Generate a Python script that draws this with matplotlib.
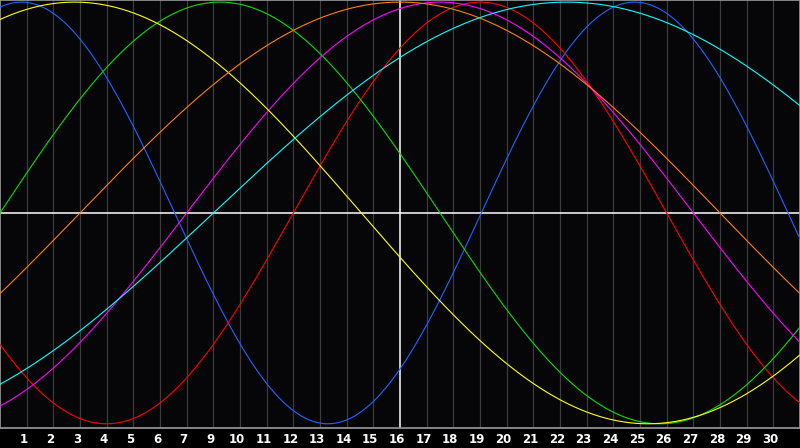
import numpy as np
import matplotlib
matplotlib.use('Agg')
import matplotlib.pyplot as plt
import matplotlib.transforms as mtransforms

# Cycle lengths (days) and the day each cycle crosses zero going up
cycle_names = ['Physical', 'Emotional', 'Intellectual', 'Intuitive',
               'Aesthetic', 'Awareness', 'Spiritual']
periods = [23, 28, 33, 38, 43, 48, 53]
zero_day = [-4.95, 11.0, 0.0, 7.0, -7.95, 3.0, 8.0]
colors = ['#1a66ff', '#ff0000', '#00e000', '#ff00ff',
          '#ffff00', '#ff8000', '#00ffff']

# Tick labels along the bottom (day 8 not shown in the original)
tick_pos = list(range(1, 30))
tick_labels = ['1', '2', '3', '4', '5', '6', '7', '9', '10', '11', '12', '13',
               '14', '15', '16', '17', '18', '19', '20', '21', '22', '23',
               '24', '25', '26', '27', '28', '29', '30']
today = 15

W, H = 800, 448
fig = plt.figure(figsize=(W / 100, H / 100), dpi=100, facecolor='black')
ax = fig.add_axes([0, 20 / H, 1, 428 / H])
ax.set_facecolor('#060608')

days = np.linspace(0, 30, 1201)

# grid
for p in tick_pos:
    if p != today:
        ax.axvline(p, color='#3c3c3c', lw=0.9, zorder=1)
ax.axvline(today, color='white', lw=1.1, zorder=2)
ax.axhline(0, color='white', lw=1.1, zorder=2)

for name, per, z0, c in zip(cycle_names, periods, zero_day, colors):
    ax.plot(days, np.sin(2 * np.pi * (days - z0) / per), color=c,
            lw=0.8, zorder=3, label=name)

ax.set_xlim(0, 30)
ax.set_ylim(-1.02, 1.01)
ax.set_yticks([])
ax.set_xticks([])

# day labels, sitting a touch left of each grid line
shift = mtransforms.ScaledTranslation(-3 / 100, 0, fig.dpi_scale_trans)
trans = ax.get_xaxis_transform() + shift
for p, lab in zip(tick_pos, tick_labels):
    ax.text(p, -11 / 428, lab, transform=trans, ha='center', va='center',
            color='white', fontsize=8.5, fontweight='bold', clip_on=False)

for s in ax.spines.values():
    s.set_color('#9a9a9a')
    s.set_linewidth(1.2)

fig.savefig('out.png', dpi=100, facecolor='black')
